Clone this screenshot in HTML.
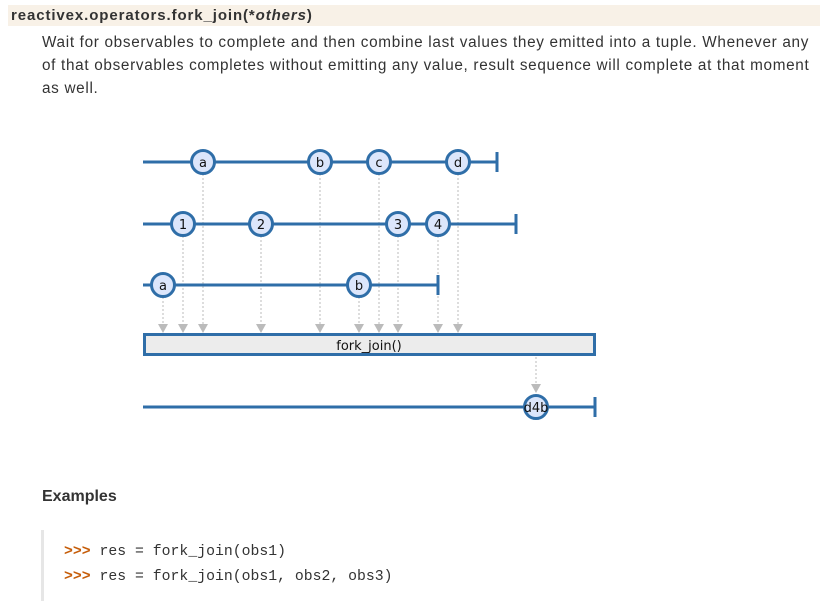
<!DOCTYPE html>
<html><head><meta charset="utf-8"><style>
body{margin:0;width:836px;height:601px;overflow:hidden;background:#fff;font-family:"Liberation Sans","DejaVu Sans",sans-serif;color:#222;position:relative}
.t{position:absolute;left:8px;top:5px;width:812px;height:21px;background:#f8f1e7;font-weight:bold;font-size:15px;line-height:21px;padding-left:3px;box-sizing:border-box;color:#333;letter-spacing:0.9px}
.d{position:absolute;left:42px;top:31px;width:800px;font-size:15.3px;line-height:23px;color:#333;letter-spacing:0.68px;white-space:nowrap}
.ex{position:absolute;left:42px;top:488px;font-weight:bold;font-size:16px;color:#333}
.code{position:absolute;left:41px;top:530px;width:780px;height:71px;border-left:3px solid #e6e6e6;background:#fff}
.code div{position:absolute;left:20px;font-family:"Liberation Mono",monospace;font-size:14.8px;color:#333;white-space:pre}
.p{color:#c65d09;font-weight:bold}
svg{position:absolute;left:0;top:0}
</style></head><body>
<div class="t">reactivex.operators.fork_join(*<i>others</i>)</div>
<div class="d">Wait for observables to complete and then combine last values they emitted into a tuple. Whenever any<br>of that observables completes without emitting any value, result sequence will complete at that moment<br>as well.</div>
<svg width="836" height="601" font-family="DejaVu Sans,Liberation Sans,sans-serif" font-size="13">
<g stroke="#bbb" stroke-width="1" stroke-dasharray="2,2">
<line x1="163" y1="297" x2="163" y2="326"/><line x1="183" y1="236" x2="183" y2="326"/><line x1="203" y1="174" x2="203" y2="326"/>
<line x1="261" y1="236" x2="261" y2="326"/><line x1="320" y1="174" x2="320" y2="326"/><line x1="359" y1="297" x2="359" y2="326"/>
<line x1="379" y1="174" x2="379" y2="326"/><line x1="398" y1="236" x2="398" y2="326"/><line x1="438" y1="236" x2="438" y2="326"/>
<line x1="458" y1="174" x2="458" y2="326"/><line x1="536" y1="357" x2="536" y2="386"/>
</g>
<g fill="#bbb">
<path d="M158 324h10l-5 9z"/><path d="M178 324h10l-5 9z"/><path d="M198 324h10l-5 9z"/><path d="M256 324h10l-5 9z"/><path d="M315 324h10l-5 9z"/><path d="M354 324h10l-5 9z"/><path d="M374 324h10l-5 9z"/><path d="M393 324h10l-5 9z"/><path d="M433 324h10l-5 9z"/><path d="M453 324h10l-5 9z"/><path d="M531 384h10l-5 9z"/>
</g>
<g stroke="#2f6ea8" stroke-width="3" fill="none">
<line x1="143" y1="162" x2="497" y2="162"/><line x1="497" y1="152" x2="497" y2="172"/>
<line x1="143" y1="224" x2="516" y2="224"/><line x1="516" y1="214" x2="516" y2="234"/>
<line x1="143" y1="285" x2="438" y2="285"/><line x1="438" y1="275" x2="438" y2="295"/>
<line x1="143" y1="407" x2="595" y2="407"/><line x1="595" y1="397" x2="595" y2="417"/>
<rect x="144.5" y="334.5" width="450" height="20" fill="#ececec"/>
</g>
<g stroke="#2f6ea8" stroke-width="3" fill="#dce6fb">
<circle cx="203" cy="162" r="11.5"/><circle cx="320" cy="162" r="11.5"/><circle cx="379" cy="162" r="11.5"/><circle cx="458" cy="162" r="11.5"/>
<circle cx="183" cy="224" r="11.5"/><circle cx="261" cy="224" r="11.5"/><circle cx="398" cy="224" r="11.5"/><circle cx="438" cy="224" r="11.5"/>
<circle cx="163" cy="285" r="11.5"/><circle cx="359" cy="285" r="11.5"/><circle cx="536" cy="407" r="11.5"/>
</g>
<g text-anchor="middle" fill="#111">
<text x="203" y="167">a</text><text x="320" y="167">b</text><text x="379" y="167">c</text><text x="458" y="167">d</text>
<text x="183" y="229">1</text><text x="261" y="229">2</text><text x="398" y="229">3</text><text x="438" y="229">4</text>
<text x="163" y="290">a</text><text x="359" y="290">b</text><text x="536" y="412">d4b</text>
<text x="369" y="350">fork_join()</text>
</g>
</svg>
<div class="ex">Examples</div>
<div class="code"><div style="top:14px"><span class="p">&gt;&gt;&gt;</span> res = fork_join(obs1)</div><div style="top:39px"><span class="p">&gt;&gt;&gt;</span> res = fork_join(obs1, obs2, obs3)</div></div>
</body></html>
